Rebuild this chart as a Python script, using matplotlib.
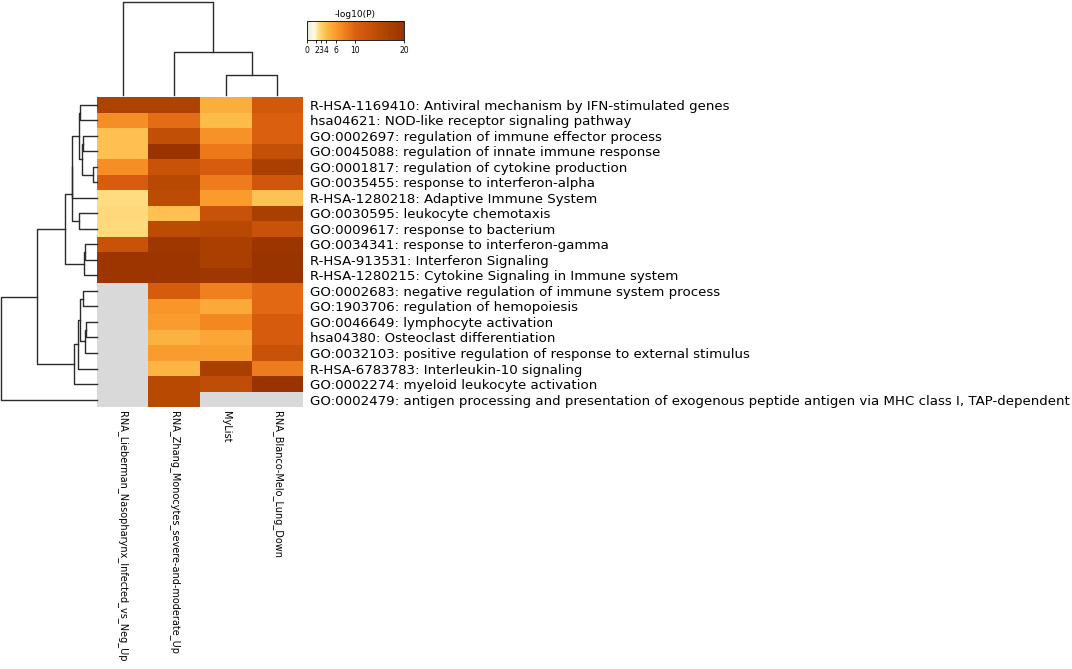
import numpy as np
import matplotlib.pyplot as plt
from matplotlib.colors import LinearSegmentedColormap, TwoSlopeNorm

# termenii (randuri) si listele (coloane)
row_labels = [
    "R-HSA-1169410: Antiviral mechanism by IFN-stimulated genes",
    "hsa04621: NOD-like receptor signaling pathway",
    "GO:0002697: regulation of immune effector process",
    "GO:0045088: regulation of innate immune response",
    "GO:0001817: regulation of cytokine production",
    "GO:0035455: response to interferon-alpha",
    "R-HSA-1280218: Adaptive Immune System",
    "GO:0030595: leukocyte chemotaxis",
    "GO:0009617: response to bacterium",
    "GO:0034341: response to interferon-gamma",
    "R-HSA-913531: Interferon Signaling",
    "R-HSA-1280215: Cytokine Signaling in Immune system",
    "GO:0002683: negative regulation of immune system process",
    "GO:1903706: regulation of hemopoiesis",
    "GO:0046649: lymphocyte activation",
    "hsa04380: Osteoclast differentiation",
    "GO:0032103: positive regulation of response to external stimulus",
    "R-HSA-6783783: Interleukin-10 signaling",
    "GO:0002274: myeloid leukocyte activation",
    "GO:0002479: antigen processing and presentation of exogenous peptide antigen via MHC class I, TAP-dependent",
]
col_labels = [
    "RNA_Lieberman_Nasopharynx_Infected_vs_Neg_Up",
    "RNA_Zhang_Monocytes_severe-and-moderate_Up",
    "MyList",
    "RNA_Blanco-Melo_Lung_Down",
]

# -log10(P), nan = lipsa
nan = np.nan
values = np.array([
    [16.5, 16.5, 4.8, 11.5],
    [6.8, 9.2, 4.0, 10.3],
    [3.8, 13.8, 6.5, 10.3],
    [3.8, 20.0, 8.3, 13.5],
    [6.8, 13.0, 10.8, 17.0],
    [10.8, 15.0, 8.0, 12.0],
    [2.5, 14.5, 6.0, 3.7],
    [2.7, 3.8, 13.0, 17.0],
    [2.6, 14.5, 15.0, 13.0],
    [13.0, 19.0, 17.0, 19.5],
    [19.5, 19.5, 17.0, 20.0],
    [19.5, 19.5, 19.0, 20.0],
    [nan, 11.0, 7.8, 9.3],
    [nan, 6.3, 5.0, 9.3],
    [nan, 6.0, 7.2, 11.0],
    [nan, 4.6, 5.3, 11.0],
    [nan, 6.0, 5.8, 13.0],
    [nan, 4.4, 17.0, 8.0],
    [nan, 15.0, 14.0, 20.0],
    [nan, 15.0, nan, nan],
])

# linkage: (nod a, nod b, inaltime) - nodurile noi primesc indici de la n in sus
row_links = [
    (0, 1, 0.177), (2, 3, 0.143), (4, 5, 0.039), (21, 22, 0.149),
    (20, 23, 0.188), (24, 6, 0.253), (7, 8, 0.188), (25, 26, 0.260),
    (9, 10, 0.118), (28, 11, 0.132), (27, 29, 0.333), (12, 13, 0.143),
    (14, 15, 0.115), (32, 16, 0.125), (31, 33, 0.177), (34, 17, 0.195),
    (35, 18, 0.240), (30, 36, 0.622), (37, 19, 1.000),
]
col_links = [(2, 3, 0.215), (1, 4, 0.462), (0, 5, 1.000)]

cbar_ticks = [0, 2, 3, 4, 6, 10, 20]
cmap_values = [0, 1.5, 2.5, 4, 6, 8, 10, 13, 16, 20]
cmap_colors = ['#e6e6e0', '#fffbe2', '#fedc80', '#fdbb48', '#fa9a2c',
               '#ef7c1c', '#dc6010', '#c85208', '#b04500', '#993300']

W, H = 1072, 669
fig = plt.figure(figsize=(W / 100, H / 100), dpi=100)


def px_axes(x0, y0, x1, y1):
    return fig.add_axes([x0 / W, 1 - y1 / H, (x1 - x0) / W, (y1 - y0) / H])


def dendro_segments(links, n):
    # pozitia fiecarui nod si inaltimea lui
    pos = {i: i + 0.5 for i in range(n)}
    height = {i: 0.0 for i in range(n)}
    segs = []
    for k, (a, b, h) in enumerate(links):
        segs.append(([pos[a], pos[a], pos[b], pos[b]], [height[a], h, h, height[b]]))
        pos[n + k] = (pos[a] + pos[b]) / 2
        height[n + k] = h
    return segs


norm = TwoSlopeNorm(vmin=0, vcenter=10, vmax=20)
cmap = LinearSegmentedColormap.from_list(
    'metascape', list(zip(norm(np.array(cmap_values, dtype=float)), cmap_colors)))
cmap.set_bad('#d9d9d9')

# heatmap
ax = px_axes(96.7, 97.0, 303.3, 407.3)
mesh = ax.pcolormesh(np.ma.masked_invalid(values), cmap=cmap, norm=norm)
ax.set_xlim(0, values.shape[1])
ax.set_ylim(values.shape[0], 0)
for s in ax.spines.values():
    s.set_visible(False)
ax.yaxis.tick_right()
ax.set_yticks(np.arange(len(row_labels)) + 0.5)
ax.set_yticklabels(row_labels, fontsize=9.6)
ax.set_xticks(np.arange(len(col_labels)) + 0.5)
ax.set_xticklabels(col_labels, fontsize=7, rotation=270, ha='center', va='top')
ax.tick_params(axis='y', length=0, pad=4.5)
ax.tick_params(axis='x', length=0, pad=2.5)

# dendrograma randuri
axr = px_axes(1, 97.0, 96.7, 407.3)
for ys, xs in dendro_segments(row_links, len(row_labels)):
    axr.plot(xs, ys, color='#2b2b2b', lw=1.0, clip_on=False)
axr.set_xlim(1, 0)
axr.set_ylim(len(row_labels), 0)
axr.axis('off')

# dendrograma coloane
axc = px_axes(96.7, 2, 303.3, 95)
for xs, ys in dendro_segments(col_links, len(col_labels)):
    axc.plot(xs, ys, color='#2b2b2b', lw=1.0, clip_on=False)
axc.set_xlim(0, len(col_labels))
axc.set_ylim(0, 1)
axc.axis('off')

# bara de culori
cax = px_axes(306.7, 21, 404, 40)
cb = fig.colorbar(mesh, cax=cax, orientation='horizontal', ticks=cbar_ticks)
cb.ax.tick_params(labelsize=5.5, length=2.5, width=0.6, pad=1.5)
cb.outline.set_linewidth(0.6)
cax.set_title('-log10(P)', fontsize=6.5, pad=3)

fig.savefig('out.png', dpi=100)
